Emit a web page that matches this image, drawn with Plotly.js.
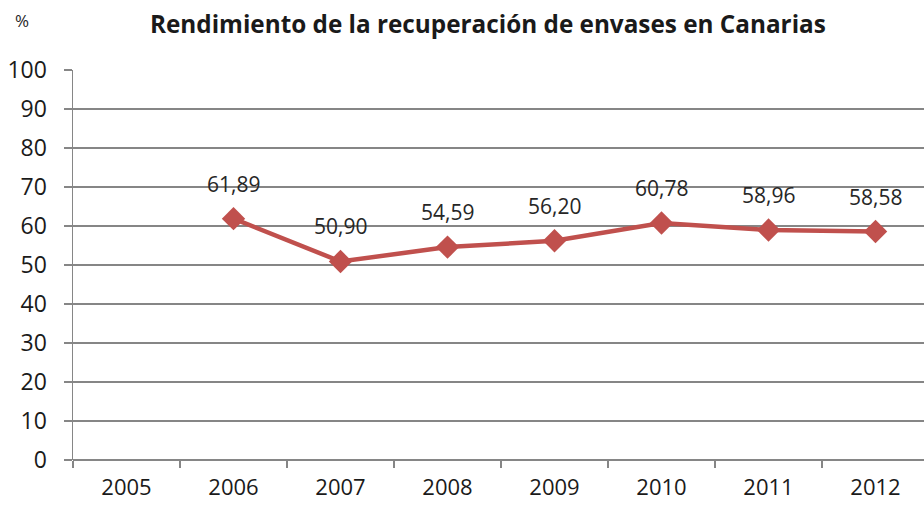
<!DOCTYPE html>
<html>
<head>
<meta charset="utf-8">
<script src="https://cdn.plot.ly/plotly-3.0.1.min.js"></script>
<style>html,body{margin:0;padding:0;background:#fff;}#chart{width:924px;height:505px;}</style>
</head>
<body>
<div id="chart"></div>
<script>
const years = ["2005","2006","2007","2008","2009","2010","2011","2012"];
const values = [null, 61.89, 50.90, 54.59, 56.20, 60.78, 58.96, 58.58];
const labels = ["", "61,89", "50,90", "54,59", "56,20", "60,78", "58,96", "58,58"];
const yTicks = [0,10,20,30,40,50,60,70,80,90,100];

const lineColor = "#C0504D";
const gridColor = "#868686";
const font = "'Open Sans', 'Noto Sans', sans-serif";

const trace = {
  x: years, y: values, type: "scatter", mode: "lines+markers",
  line: {color: lineColor, width: 4.5},
  marker: {symbol: "diamond", size: 18, color: lineColor},
  connectgaps: false, hoverinfo: "skip"
};

const annotations = [];
values.forEach((v, i) => {
  if (v == null) return;
  annotations.push({
    x: i, y: v, xref: "x", yref: "y", text: labels[i], showarrow: false,
    yshift: 35, font: {family: font, size: 21, color: "#262626"}
  });
});

annotations.push({
  text: "%", xref: "paper", yref: "paper", x: 0, y: 1, xanchor: "center", yanchor: "middle",
  xshift: -51, yshift: 50, showarrow: false, font: {family: font, size: 17, color: "#262626"}
});

const layout = {
  width: 924, height: 505,
  margin: {l: 73, r: 0, t: 70, b: 45},
  paper_bgcolor: "#fff", plot_bgcolor: "#fff",
  showlegend: false,
  title: {text: "<b>Rendimiento de la recuperación de envases en Canarias</b>",
    font: {family: font, size: 24.3, color: "#1a1a1a"}, x: 0.528, xanchor: "center", y: 0.952, yanchor: "middle"},
  xaxis: {type: "category", range: [-0.5, 7.453], showgrid: false, zeroline: false,
    showline: false, ticks: "outside", ticklen: 7, tickcolor: gridColor, tickwidth: 1.5,
    tickson: "boundaries", tickfont: {family: font, size: 22, color: "#1a1a1a"}, ticklabelstandoff: 12},
  yaxis: {range: [0, 100], tickvals: yTicks, ticktext: yTicks.map(String), showgrid: true,
    gridcolor: gridColor, gridwidth: 1.5, zeroline: true, zerolinecolor: gridColor, zerolinewidth: 1.5,
    showline: true, linecolor: gridColor, linewidth: 1.5, ticks: "outside", ticklen: 8,
    tickcolor: gridColor, tickwidth: 1.5, ticklabelstandoff: 12,
    tickfont: {family: font, size: 23, color: "#1a1a1a"}},
  annotations: annotations
};

Plotly.newPlot("chart", [trace], layout, {staticPlot: true});
</script>
</body>
</html>
